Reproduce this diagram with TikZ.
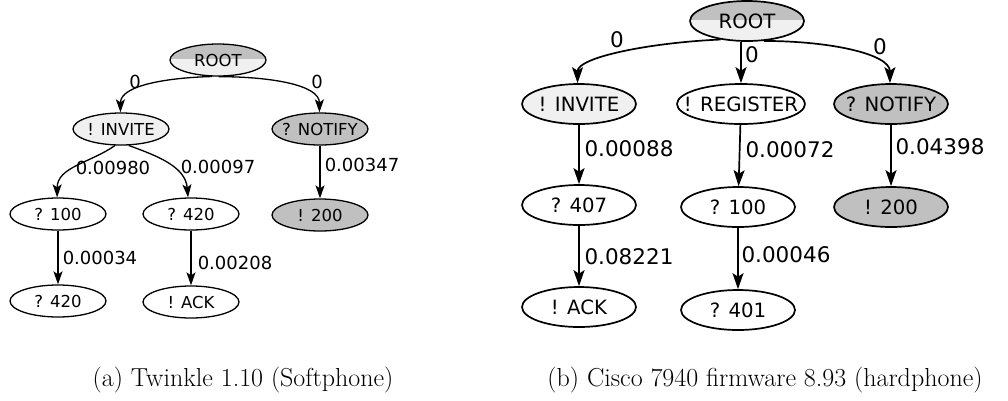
\documentclass[tikz,border=0pt]{standalone}
\usepackage{fontspec}
\usepackage{tikz}
\usetikzlibrary{shapes.geometric,arrows.meta}
\newfontfamily\gvfont{DejaVu Sans}
\definecolor{gvlite}{HTML}{F0F0F0}
\definecolor{gvdark}{HTML}{C0C0C0}

\begin{document}
\begin{tikzpicture}[x=1pt,y=1pt,>={Stealth[length=13pt,width=9pt,inset=3pt]}]
\tikzset{
  st/.style={draw,ellipse,line width=1.3pt,inner xsep=-14pt,inner ysep=0pt,
    minimum width=96pt,minimum height=32pt,font=\gvfont\fontsize{16.5}{18}\selectfont},
  stb/.style={st,line width=1.7pt,minimum width=114pt,minimum height=40pt,
    font=\gvfont\fontsize{19.7}{22}\selectfont},
  lite/.style={fill=gvlite},
  dark/.style={fill=gvdark},
  rootnode/.style={fill=gvlite,path picture={
    \fill[gvdark] (path picture bounding box.north west)
      rectangle ([yshift=1.5pt]path picture bounding box.east);}},
  lbl/.style={inner sep=0pt,font=\gvfont\fontsize{18}{20}\selectfont},
  lblb/.style={inner sep=0pt,font=\gvfont\fontsize{21.5}{24}\selectfont},
  edge/.style={->,line width=1.3pt},
  edgeb/.style={->,line width=1.7pt,>={Stealth[length=16pt,width=11pt,inset=3.5pt]}},
  capt/.style={inner sep=0pt,font=\fontsize{26}{31}\selectfont}
}
\useasboundingbox (0,0) rectangle (1008,-400);
% draw tree a
%   nodes
    \node[st,rootnode] (ra) at (218,-60) {ROOT};
    \node[st,lite] (ia) at (121,-129) {! INVITE};
    \node[st,dark] (na) at (320,-129) {? NOTIFY};
    \node[st] (ca) at (58,-214) {? 100};
    \node[st] (ea) at (191,-214) {? 420};
    \node[st,dark] (oa) at (320,-215) {! 200};
    \node[st] (fa) at (58,-301) {? 420};
    \node[st] (ka) at (191,-302) {! ACK};
%   labels
    \node[lbl] (la1) at (135,-82) {0};
    \node[lbl] (la2) at (317,-82) {0};
    \node[lbl] (la3) at (113,-168) {0.00980};
    \node[lbl] (la4) at (218,-167) {0.00097};
    \node[lbl] (la5) at (362,-165) {0.00347};
    \node[lbl] (la6) at (100,-258) {0.00034};
    \node[lbl] (la7) at (235,-263) {0.00208};
%   edges
    \draw[edge] (ra.250) .. controls +(-40,-1) and +(0,28) .. (ia.92);
    \draw[edge] (ra.272) .. controls +(50,0) and +(0,28) .. (na.92);
    \draw[edge] (ia.250) to[out=215,in=90] (ca.93);
    \draw[edge] (ia.295) to[out=-20,in=95] (ea.100);
    \draw[edge] (na) -- (oa);
    \draw[edge] (ca) -- (fa);
    \draw[edge] (ea) -- (ka);
% draw tree b
%   nodes
    \node[stb,rootnode] (rb) at (747,-21) {ROOT};
    \node[stb,lite] (ib) at (579,-104) {! INVITE};
    \node[stb,minimum width=128pt] (gb) at (741,-104) {! REGISTER};
    \node[stb,dark] (nb) at (891,-104) {? NOTIFY};
    \node[stb] (pb) at (579,-205) {? 407};
    \node[stb] (cb) at (738,-207) {? 100};
    \node[stb,dark] (ob) at (891,-207) {! 200};
    \node[stb] (kb) at (579,-307) {! ACK};
    \node[stb] (fb) at (738,-310) {? 401};
%   labels
    \node[lblb] (lb1) at (617,-40) {0};
    \node[lblb] (lb2) at (752,-55) {0};
    \node[lblb] (lb3) at (880,-47) {0};
    \node[lblb] (lb4) at (629,-149) {0.00088};
    \node[lblb] (lb5) at (790,-150) {0.00072};
    \node[lblb] (lb6) at (940,-147) {0.04398};
    \node[lblb] (lb7) at (629,-257) {0.08221};
    \node[lblb] (lb8) at (786,-255) {0.00046};
%   edges
    \draw[edgeb] (rb.215) .. controls +(-70,-3) and +(0,26) .. (ib.94);
    \draw[edgeb] (gb.north |- rb.south) -- (gb.north);
    \draw[edgeb] (rb.310) .. controls +(67,0) and +(0,29) .. (nb.93);
    \draw[edgeb] (ib) -- (pb);
    \draw[edgeb] (pb) -- (kb);
    \draw[edgeb] (gb) -- (cb);
    \draw[edgeb] (cb) -- (fb);
    \draw[edgeb] (nb) -- (ob);
% captions
    \node[capt] (cpa) at (243,-380) {(a) Twinkle 1.10 (Softphone)};
    \node[capt] (cpb) at (765,-380) {(b) Cisco 7940 firmware 8.93 (hardphone)};
\end{tikzpicture}
\end{document}
